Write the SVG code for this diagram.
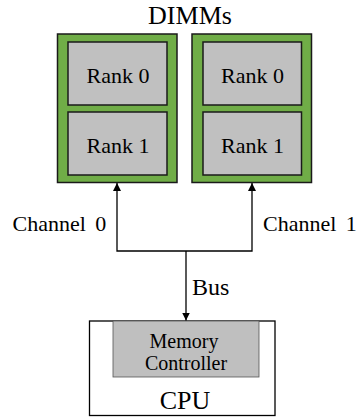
<svg xmlns="http://www.w3.org/2000/svg" width="360" height="417" viewBox="0 0 360 417">
<defs>
<style>
text{font-family:"Liberation Serif","Times New Roman",serif;fill:#000}
.dimm{fill:#70AD47;stroke:#1a1a1a;stroke-width:1.5}
.rank{fill:#C0C0C0;stroke:#1a1a1a;stroke-width:1.5}
.rt{font-size:22px;text-anchor:middle}
.wire{fill:none;stroke:#000;stroke-width:1.3}
.lbl{font-size:22px;word-spacing:4px}
</style>
<marker id="ah" viewBox="0 0 10 10" refX="10" refY="5" markerWidth="8" markerHeight="8" markerUnits="userSpaceOnUse" orient="auto">
<path d="M0,0 L10,5 L0,10 z" fill="#000"/>
</marker>
</defs>
<text x="190" y="24" font-size="26" text-anchor="middle">DIMMs</text>
<g id="dimm0">
<rect class="dimm" x="57.5" y="34" width="119.5" height="148.5"/>
<rect class="rank" x="68" y="42" width="99" height="63"/>
<text class="rt" x="118" y="83">Rank 0</text>
<rect class="rank" x="68" y="112" width="99" height="63"/>
<text class="rt" x="118" y="153">Rank 1</text>
</g>
<g id="dimm1">
<rect class="dimm" x="192" y="34" width="119.5" height="148.5"/>
<rect class="rank" x="203" y="42" width="98.5" height="63"/>
<text class="rt" x="252.5" y="83">Rank 0</text>
<rect class="rank" x="203" y="112" width="98.5" height="63"/>
<text class="rt" x="252.5" y="153">Rank 1</text>
</g>
<g id="cpu">
<rect x="89.5" y="321" width="185.5" height="94.5" fill="#fff" stroke="#000" stroke-width="1.3"/>
<rect x="113" y="321" width="146" height="56" fill="#BFBFBF" stroke="#555" stroke-width="0.8"/>
<text x="184" y="348" font-size="20" text-anchor="middle" fill="#2a2a2a">Memory</text>
<text x="186" y="370" font-size="20" text-anchor="middle" fill="#2a2a2a">Controller</text>
<text x="185" y="409" font-size="26" text-anchor="middle">CPU</text>
</g>
<g id="connectors">
<path class="wire" d="M186,251 L117,251 L117,183" marker-end="url(#ah)"/>
<path class="wire" d="M186,251 L252,251 L252,183" marker-end="url(#ah)"/>
<path class="wire" d="M186,251 L186,320.5" marker-end="url(#ah)"/>
<text class="lbl" x="12.5" y="231">Channel 0</text>
<text class="lbl" x="263" y="231">Channel 1</text>
<text x="192" y="295" font-size="24">Bus</text>
</g>
</svg>
